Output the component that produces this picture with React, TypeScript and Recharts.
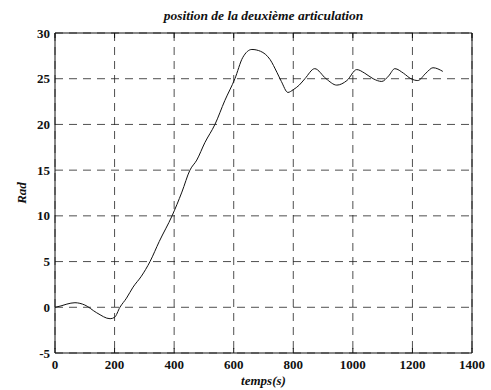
import { LineChart, Line, XAxis, YAxis, CartesianGrid, Label } from 'recharts';

// time (s) and joint position (rad)
const TIMES = [
  0, 20, 40, 67, 100, 140, 185, 200, 218, 240, 262, 290, 319, 350, 393, 426, 453, 476,
  503, 537, 570, 604, 630, 661, 690, 722, 745, 760, 782, 800, 820, 839, 872, 910, 946,
  980, 1013, 1040, 1068, 1097, 1120, 1141, 1170, 1195, 1218, 1245, 1269, 1302,
];
const POSITION = [
  0, 0.15, 0.35, 0.5, 0.25, -0.6, -1.25, -1.1, 0, 1.0, 2.2, 3.4, 5, 7.2, 10, 12.6, 15, 16.1,
  18, 20, 22.6, 25, 27.3, 28.2, 28, 27.1, 25.7, 24.7, 23.5, 23.8, 24.3, 25, 26.1, 25, 24.3,
  24.8, 26.0, 25.6, 25, 24.7, 25.3, 26.1, 25.6, 25, 24.8, 25.6, 26.2, 25.8,
];
const X_TICKS = [0, 200, 400, 600, 800, 1000, 1200, 1400];
const Y_TICKS = [-5, 0, 5, 10, 15, 20, 25, 30];

const TITLE = 'position de la deuxième articulation';
const X_LABEL = 'temps(s)';
const Y_LABEL = 'Rad';

const FONT = '"Liberation Serif", "DejaVu Serif", serif';
const tickStyle = { fontSize: 13, fontWeight: 700, fill: '#111', fontFamily: FONT };
const labelStyle = { fontFamily: FONT, fontSize: 13, fontWeight: 700, fontStyle: 'italic', fill: '#111' };

export default function App() {
  const data = TIMES.map((t, i) => ({ t, v: POSITION[i] }));

  return (
    <div style={{ position: 'absolute', left: 0, top: 0, width: 491, height: 390, background: '#fff' }}>
      <div
        style={{
          position: 'absolute', left: 55, width: 417, top: 8, textAlign: 'center',
          fontFamily: FONT, fontSize: 13.5, fontWeight: 700, fontStyle: 'italic', color: '#111',
        }}
      >
        {TITLE}
      </div>
      <LineChart width={491} height={390} data={data} margin={{ top: 33, right: 19, bottom: 0, left: 0 }}>
        <CartesianGrid stroke="#222" strokeDasharray="8 6" strokeWidth={0.8} />
        <XAxis
          dataKey="t" type="number" domain={[0, 1400]} ticks={X_TICKS} height={37}
          tick={tickStyle} tickSize={0} tickMargin={7} axisLine={{ stroke: '#111' }}
          allowDataOverflow
        >
          <Label value={X_LABEL} position="insideBottom" offset={5} style={labelStyle} />
        </XAxis>
        <XAxis
          xAxisId="top" dataKey="t" type="number" orientation="top" mirror domain={[0, 1400]}
          ticks={X_TICKS} tickSize={5} tickFormatter={() => ''} tickLine={{ stroke: '#111' }}
          axisLine={{ stroke: '#111' }}
        />
        <XAxis
          xAxisId="bot" dataKey="t" type="number" orientation="bottom" mirror domain={[0, 1400]}
          ticks={X_TICKS} tickSize={5} tickFormatter={() => ''} tickLine={{ stroke: '#111' }}
          axisLine={false}
        />
        <YAxis
          type="number" domain={[-5, 30]} ticks={Y_TICKS} width={55} tick={tickStyle}
          tickSize={0} tickMargin={5} axisLine={{ stroke: '#111' }} allowDataOverflow
        >
          <Label
            value={Y_LABEL} angle={-90} position="insideLeft" offset={21}
            style={{ ...labelStyle, textAnchor: 'middle' }}
          />
        </YAxis>
        <YAxis
          yAxisId="right" type="number" orientation="right" mirror domain={[-5, 30]} ticks={Y_TICKS}
          tickSize={5} tickFormatter={() => ''} tickLine={{ stroke: '#111' }} axisLine={{ stroke: '#111' }}
        />
        <YAxis
          yAxisId="left2" type="number" orientation="left" mirror domain={[-5, 30]} ticks={Y_TICKS}
          tickSize={5} tickFormatter={() => ''} tickLine={{ stroke: '#111' }} axisLine={false}
        />
        <Line
          type="monotone" dataKey="v" stroke="#111" strokeWidth={1} dot={false}
          isAnimationActive={false}
        />
      </LineChart>
    </div>
  );
}
